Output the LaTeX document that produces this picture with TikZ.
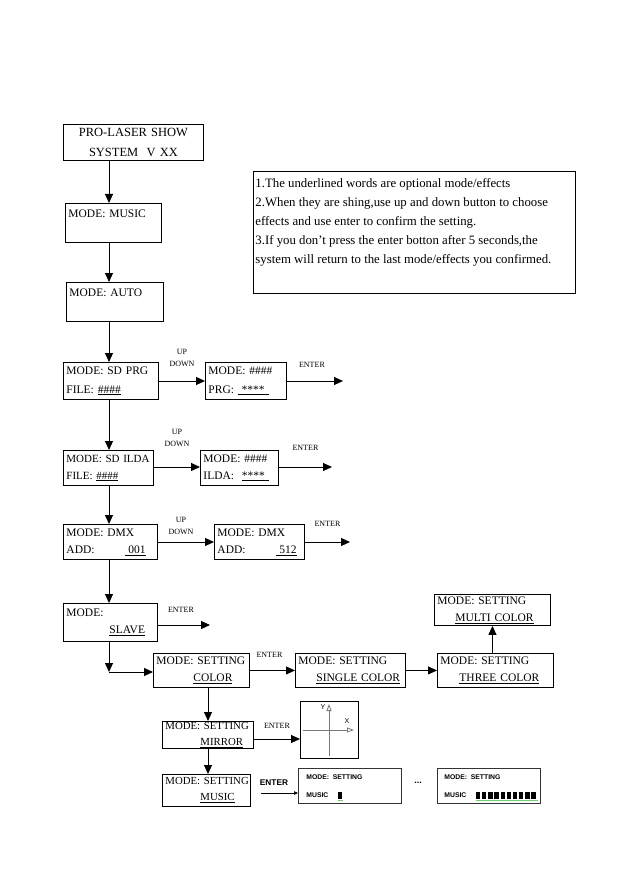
\documentclass[tikz,border=0pt]{standalone}
\usepackage{fontspec}
\setmainfont{Liberation Serif}
\newfontfamily\lcdsans{Liberation Sans}
\usepackage{xcolor}
\definecolor{lcdgreen}{RGB}{110, 205, 110}
\definecolor{axisgray}{RGB}{120, 120, 120}
\usepackage{tikz}
\usetikzlibrary{arrows.meta, positioning, calc}

\begin{document}
\begin{tikzpicture}[x=1pt, y=-1pt, >={Triangle[length=9pt, width=8pt]}, line width=0.9pt,
    menu/.style={draw, anchor=north west, align=left, inner xsep=3pt, inner ysep=0pt, font=\fontsize{11.5}{17}\selectfont},
    keylbl/.style={font=\fontsize{8}{12}\selectfont, align=center, inner sep=0pt},
    lcd/.style={draw=black!80, line width=1.3pt, anchor=north west, minimum width=103pt, minimum height=35pt},
    lcdtxt/.style={font=\lcdsans\bfseries\fontsize{6.8}{8}\selectfont, anchor=west, inner sep=0pt}]
    \useasboundingbox (0,0) rectangle (631,893);
    \coordinate (spine) at (109,0);
    \coordinate (branch) at (208,0);

    \node[menu, minimum width=140pt, minimum height=36pt, text width=134pt, align=center, font=\fontsize{12.5}{20}\selectfont] (title) at (63,124) {PRO-LASER SHOW\\SYSTEM\ \ V XX};
    \node[menu, minimum width=96pt, minimum height=39pt, text width=90pt, font=\fontsize{11.5}{19}\selectfont] (music) at (65,203) {\mbox{MODE: MUSIC}\\~};
    \node[menu, minimum width=97pt, minimum height=39pt, text width=91pt, font=\fontsize{11.5}{19}\selectfont] (auto) at (66,282) {\mbox{MODE: AUTO}\\~};

    \node[menu, minimum width=322pt, minimum height=122pt] (note) at (253,171) {};
    \node[anchor=north west, align=left, inner sep=0pt, font=\fontsize{12.8}{18.9}\selectfont] (notetxt) at (255,178) {1.The underlined words are optional mode/effects\\2.When they are shing,use up and down button to choose\\effects and use enter to confirm the setting.\\3.If you don't press the enter botton after 5 seconds,the\\system will return to the last mode/effects you confirmed.};

    \node[menu, minimum width=95pt, minimum height=37pt, text width=89pt, font=\fontsize{11.5}{19}\selectfont] (sdprg) at (63,362) {\mbox{MODE: SD PRG}\\\mbox{FILE: \underline{\#\#\#\#}}};
    \node[menu, minimum width=81pt, minimum height=37pt, text width=75pt, font=\fontsize{11.5}{19}\selectfont] (prg) at (205,362) {\mbox{MODE: \#\#\#\#}\\\mbox{PRG: \underline{\ ****\ }}};
    \node[menu, minimum width=90pt, minimum height=35pt, text width=84pt, font=\fontsize{11}{17}\selectfont] (sdilda) at (63,450) {\mbox{MODE: SD ILDA}\\\mbox{FILE: \underline{\#\#\#\#}}};
    \node[menu, minimum width=78pt, minimum height=35pt, text width=72pt] (ilda) at (200,450) {\mbox{MODE: \#\#\#\#}\\\mbox{ILDA:\ \ \underline{****\ }}};
    \node[menu, minimum width=94pt, minimum height=35pt, text width=88pt] (dmx) at (63,524) {\mbox{MODE: DMX}\\\mbox{ADD:\hspace{30pt}\underline{\ 001}}};
    \node[menu, minimum width=90pt, minimum height=35pt, text width=84pt] (dmxend) at (214,524) {\mbox{MODE: DMX}\\\mbox{ADD:\hspace{30pt}\underline{\ 512}}};
    \node[menu, minimum width=94pt, minimum height=38pt, text width=88pt, font=\fontsize{11.5}{16.5}\selectfont] (slave) at (63,603) {\mbox{MODE:}\\\mbox{\hspace{43pt}\underline{SLAVE}}};

    \node[menu, minimum width=96pt, minimum height=34pt, text width=90pt] (color) at (153,653) {\mbox{MODE: SETTING}\\\mbox{\hspace{37pt}\underline{COLOR}}};
    \node[menu, minimum width=110pt, minimum height=34pt, text width=104pt] (single) at (295,653) {\mbox{MODE: SETTING}\\\mbox{\hspace{18pt}\underline{SINGLE COLOR}}};
    \node[menu, minimum width=116pt, minimum height=34pt, text width=110pt] (three) at (437,653) {\mbox{MODE: SETTING}\\\mbox{\hspace{19pt}\underline{THREE COLOR}}};
    \node[menu, minimum width=116pt, minimum height=31pt, text width=110pt] (multi) at (434,594) {\mbox{MODE: SETTING}\\\mbox{\hspace{18pt}\underline{MULTI COLOR}}};
    \node[menu, minimum width=91pt, minimum height=27pt, text width=85pt, font=\fontsize{10.8}{16}\selectfont] (mirror) at (162,721) {\mbox{MODE: SETTING}\\\mbox{\hspace{35pt}\underline{MIRROR}}};
    \node[menu, minimum width=88pt, minimum height=32pt, text width=82pt, font=\fontsize{10.8}{16}\selectfont] (musicset) at (162,774) {\mbox{MODE: SETTING}\\\mbox{\hspace{35pt}\underline{MUSIC}}};

    % main column
    \draw[->] (title.south -| spine) -- (music.north -| spine);
    \draw[->] (music.south -| spine) -- (auto.north -| spine);
    \draw[->] (auto.south -| spine) -- (sdprg.north -| spine);
    \draw[->] (sdprg.south -| spine) -- (sdilda.north -| spine);
    \draw[->] (sdilda.south -| spine) -- (dmx.north -| spine);
    \draw[->] (dmx.south -| spine) -- (slave.north -| spine);
    \coordinate (bend) at (109,672);
    \draw[->] (slave.south -| spine) -- (bend);
    \draw[->] (bend) -- (color.west |- bend);

    % up / down and enter
    \coordinate (prgout) at (343,381);
    \coordinate (ildaout) at (332,467);
    \coordinate (dmxout) at (350,542);
    \coordinate (slaveout) at (210,625);
    \draw[->] (sdprg.east |- prgout) -- (prg.west |- prgout) node[keylbl, midway, yshift=23pt] {UP\\DOWN};
    \draw[->] (prg.east |- prgout) -- (prgout) node[keylbl, midway, xshift=-3pt, yshift=16pt] {ENTER};
    \draw[->] (sdilda.east |- ildaout) -- (ilda.west |- ildaout) node[keylbl, midway, yshift=29pt] {UP\\DOWN};
    \draw[->] (ilda.east |- ildaout) -- (ildaout) node[keylbl, midway, yshift=19pt] {ENTER};
    \draw[->] (dmx.east |- dmxout) -- (dmxend.west |- dmxout) node[keylbl, midway, xshift=-5pt, yshift=16pt] {UP\\DOWN};
    \draw[->] (dmxend.east |- dmxout) -- (dmxout) node[keylbl, midway, yshift=18pt] {ENTER};
    \draw[->] (slave.east |- slaveout) -- (slaveout) node[keylbl, midway, xshift=-3pt, yshift=15pt] {ENTER};

    % setting row
    \draw[->] (color.east) -- (single.west) node[keylbl, midway, xshift=-3pt, yshift=16pt] {ENTER};
    \draw[->] (single.east) -- (three.west);
    \draw[->] (three.north -| multi.south) -- (multi.south);
    \draw[->] (color.south -| branch) -- (mirror.north -| branch);
    \draw[->] (mirror.south -| branch) -- (musicset.north -| branch);

    % mirror axes
    \node[draw, line width=0.8pt, anchor=north west, minimum width=58pt, minimum height=57pt] (axes) at (300,701) {};
    \coordinate (mrow) at (0,739);
    \draw[->] (mirror.east |- mrow) -- (axes.west |- mrow) node[keylbl, midway, yshift=13pt] {ENTER};
    \draw[axisgray, line width=0.8pt, -{Triangle[open, length=7pt, width=5pt]}] (329,756) -- (329,704);
    \draw[axisgray, line width=0.8pt, -{Triangle[open, length=7pt, width=5pt]}] (303,730) -- (354,730);
    \node[font=\lcdsans\fontsize{7}{8}\selectfont, inner sep=0pt] (ylbl) at (323,707) {Y};
    \node[font=\lcdsans\fontsize{7}{8}\selectfont, inner sep=0pt] (xlbl) at (347,721) {X};

    % music level display
    \node[lcd] (lcdlow) at (298,768) {};
    \node[lcd] (lcdhigh) at (437,768) {};
    \coordinate (lrow) at (0,793);
    \draw[->, line width=0.6pt, >={Triangle[length=4pt, width=3.5pt]}] (musicset.east |- lrow) ++(10,0) -- (lcdlow.west |- lrow);
    \node[font=\lcdsans\bfseries\fontsize{8.3}{9}\selectfont, inner sep=0pt] (lcdenter) at (274,783) {ENTER};
    \node[lcdtxt] (lowmode) at (306,777) {MODE:\ \ SETTING};
    \node[lcdtxt] (lowmusic) at (306,795) {MUSIC};
    \fill (338,791.5) rectangle (342,799);
    \draw[lcdgreen, line width=1pt] (337.5,800.3) -- (342.5,800.3);
    \node[font=\lcdsans\bfseries\fontsize{9}{9}\selectfont, inner sep=0pt] (gap) at (418,783) {...};
    \node[lcdtxt] (highmode) at (444,777) {MODE:\ \ SETTING};
    \node[lcdtxt] (highmusic) at (444,795) {MUSIC};
    \foreach \i in {0,...,9}
        \fill (476+\i*6.15,791.5) rectangle (480.3+\i*6.15,799);
    \draw[lcdgreen, line width=1pt] (475.5,800.3) -- (537.5,800.3);
\end{tikzpicture}
\end{document}
